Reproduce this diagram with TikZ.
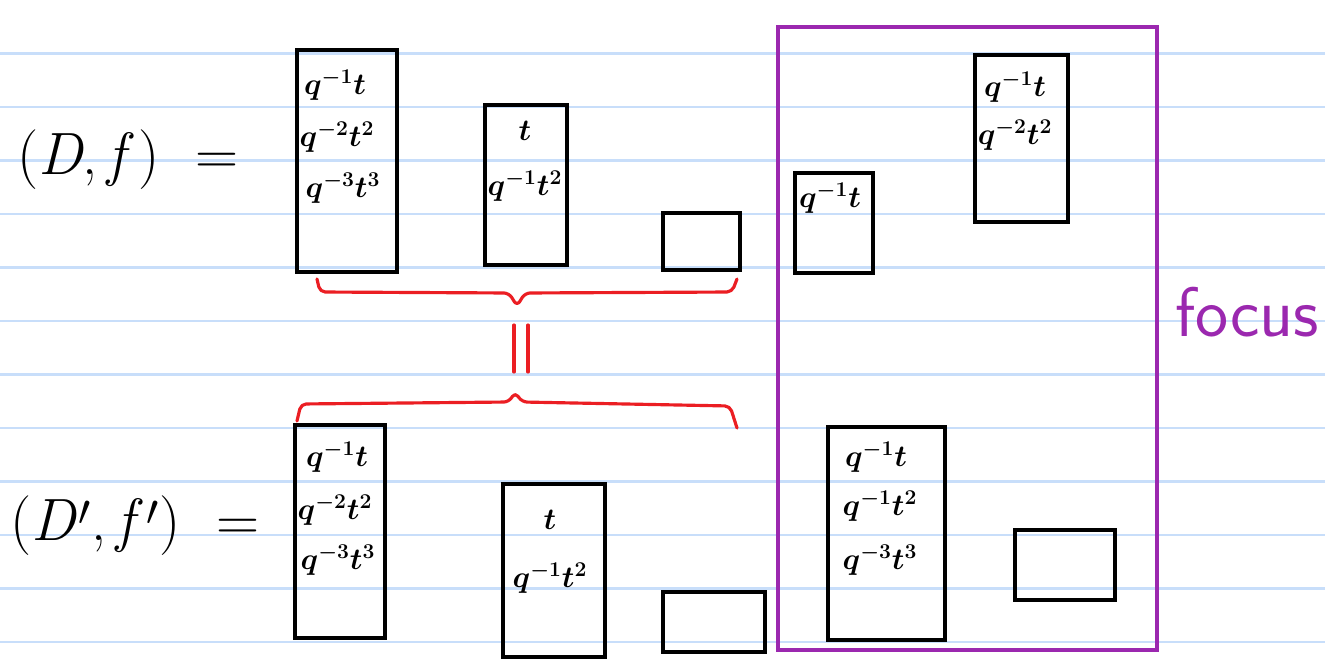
\documentclass[tikz,border=0pt]{standalone}
\usetikzlibrary{calc}
\definecolor{ruled}{RGB}{200,222,250}
\definecolor{penred}{RGB}{235,30,35}
\definecolor{penpurple}{RGB}{155,40,175}
\tikzset{
  box/.style={draw=black, line width=2.3pt, rectangle, inner sep=0pt},
  focusbox/.style={draw=penpurple, line width=1.8pt, rectangle, inner sep=0pt},
  lbl/.style={inner sep=0pt, font=\fontsize{17.5}{21}\selectfont\boldmath},
  big/.style={inner sep=0pt, font=\fontsize{34}{38}\selectfont},
  bracepen/.style={draw=penred, line width=1.8pt, line join=round, line cap=round, rounded corners=3pt},
  ruleline/.style={draw=ruled, line width=1.4pt}
}
\begin{document}
\begin{tikzpicture}[x={(0.02cm,0cm)}, y={(0cm,-0.02cm)}]
\useasboundingbox (0,0) rectangle (1325,662);
\fill[white] (0,0) rectangle (1325,662);
% ruled lines
\foreach \yy in {53.5,107,160.5,214,267.5,321,374.5,428,481.5,535,588.5,642}
  \draw[ruleline] (0,\yy) -- (1325,\yy);

% left labels
\node[big] (df) at (128,160) {(\textit{D},\,\textit{f}\kern2pt)\ \ =};
\node[big] (dfp) at (135,526) {(\textit{D}\kern1pt$'$,\,\textit{f}\kern2pt$'$)\ \ =};

% top row boxes
\node[box, minimum width=2.0cm, minimum height=4.44cm] (A) at (347,161) {};
\node[lbl] (a1) at (335,85) {$q^{-1}t$};
\node[lbl] (a2) at (337,137) {$q^{-2}t^{2}$};
\node[lbl] (a3) at (343,188) {$q^{-3}t^{3}$};

\node[box, minimum width=1.64cm, minimum height=3.2cm] (B) at (526,185) {};
\node[lbl] (b1) at (525,131) {$t$};
\node[lbl] (b2) at (525,186) {$q^{-1}t^{2}$};

\node[box, minimum width=1.54cm, minimum height=1.14cm] (C) at (701.5,241.5) {};

% bottom row boxes
\node[box, minimum width=1.8cm, minimum height=4.26cm] (D) at (340,531.5) {};
\node[lbl] (d1) at (337,457) {$q^{-1}t$};
\node[lbl] (d2) at (335,510) {$q^{-2}t^{2}$};
\node[lbl] (d3) at (338,560) {$q^{-3}t^{3}$};

\node[box, minimum width=2.04cm, minimum height=3.46cm] (E) at (554,570.5) {};
\node[lbl] (e1) at (550,520) {$t$};
\node[lbl] (e2) at (550,578) {$q^{-1}t^{2}$};

\node[box, minimum width=2.04cm, minimum height=1.2cm] (F) at (714,622) {};

% red braces and equality
\coordinate (ub1) at (317,279);
\coordinate (ub2) at (737,279);
\draw[bracepen] (ub1) -- (320,292) -- (509,293) -- (517,306) -- (525,293) -- (732,292) -- (ub2);
\draw[bracepen] (514,325) -- (514,372);
\draw[bracepen] (528,325) -- (528,372);
\coordinate (lb1) at (297,421);
\coordinate (lb2) at (737,428);
\draw[bracepen] (lb1) -- (301,404) -- (509,402) -- (515,392) -- (522,402) -- (730,406) -- (lb2);

% focus region
\node[focusbox, minimum width=7.58cm, minimum height=12.46cm] (P) at (967.5,338.5) {};
\node[inner sep=0pt, text=penpurple, font=\sffamily\fontsize{40}{44}\selectfont] (focus) at (1247,312) {focus};

\node[box, minimum width=1.56cm, minimum height=2.0cm] (G) at (834,223) {};
\node[lbl] (g1) at (830,198) {$q^{-1}t$};

\node[box, minimum width=1.86cm, minimum height=3.34cm] (H) at (1021.5,138.5) {};
\node[lbl] (h1) at (1015,87) {$q^{-1}t$};
\node[lbl] (h2) at (1015,135) {$q^{-2}t^{2}$};

\node[box, minimum width=2.34cm, minimum height=4.26cm] (I) at (886.5,533.5) {};
\node[lbl] (i1) at (876,457) {$q^{-1}t$};
\node[lbl] (i2) at (880,506) {$q^{-1}t^{2}$};
\node[lbl] (i3) at (880,560) {$q^{-3}t^{3}$};

\node[box, minimum width=2.0cm, minimum height=1.4cm] (J) at (1065,565) {};
\end{tikzpicture}
\end{document}
